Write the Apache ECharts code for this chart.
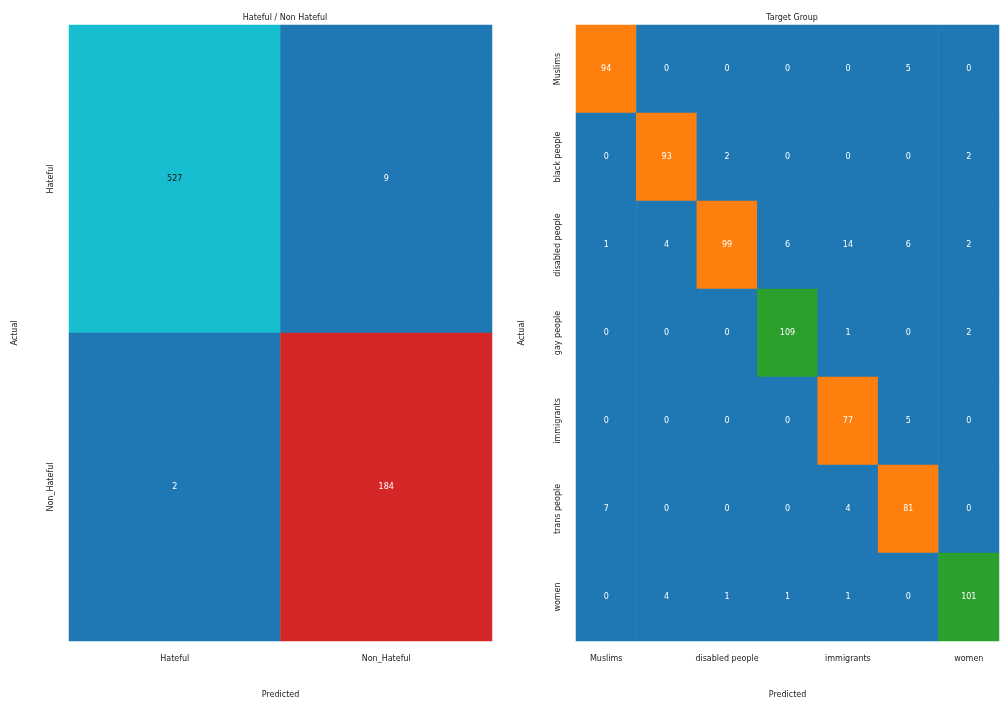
<!DOCTYPE html>
<html><head><meta charset="utf-8">
<script src="https://cdn.jsdelivr.net/npm/echarts@6/dist/echarts.min.js"></script>
<style>html,body{margin:0;background:#fff}#c{width:1008px;height:710px}</style>
</head><body><div id="c"></div>
<script>
const binCats = ['Hateful','Non_Hateful'];
const binValues = [[527,9],[2,184]];
const grpCats = ['Muslims','black people','disabled people','gay people','immigrants','trans people','women'];
const grpValues = [
 [94,0,0,0,0,5,0],
 [0,93,2,0,0,0,2],
 [1,4,99,6,14,6,2],
 [0,0,0,109,1,0,2],
 [0,0,0,0,77,5,0],
 [7,0,0,0,4,81,0],
 [0,4,1,1,1,0,101]
];
function toData(m){const d=[];m.forEach((r,i)=>r.forEach((v,j)=>d.push([j,i,v])));return d;}
const font='DejaVu Sans';
const lbl={fontSize:8,color:'#222',fontFamily:font};
function axes(cats,gi){
 return {
  x:{type:'category',data:cats,gridIndex:gi,position:'bottom',axisLine:{show:false},axisTick:{show:false},splitLine:{show:false},
     axisLabel:Object.assign({margin:14},lbl),name:'Predicted',nameLocation:'middle',nameGap:50,nameTextStyle:lbl},
  y:{type:'category',data:cats,gridIndex:gi,inverse:true,axisLine:{show:false},axisTick:{show:false},
     axisLabel:Object.assign({rotate:90,margin:14},lbl),name:'Actual',nameLocation:'middle',nameGap:50,nameTextStyle:lbl}
 };
}
const a0=axes(binCats,0),a1=axes(grpCats,1);
const chart=echarts.init(document.getElementById('c'));
const cellLabel={show:true,fontSize:8,fontFamily:font,color:'#fff'};
chart.setOption({
 animation:false,
 title:[{text:'Hateful / Non Hateful',left:280,top:9,textAlign:'center',textStyle:{fontSize:8,fontWeight:'normal',color:'#222',fontFamily:font}},
        {text:'Target Group',left:787,top:9,textAlign:'center',textStyle:{fontSize:8,fontWeight:'normal',color:'#222',fontFamily:font}}],
 grid:[{left:69,top:25,width:423,height:616},{left:576,top:25,width:423,height:616}],
 xAxis:[a0.x,a1.x],yAxis:[a0.y,a1.y],
 visualMap:[
  {show:false,type:'piecewise',seriesIndex:0,pieces:[{lt:100,color:'#1f77b4'},{gte:100,lt:400,color:'#d62728'},{gte:400,color:'#17becf'}]},
  {show:false,type:'piecewise',seriesIndex:1,pieces:[{lt:60,color:'#1f77b4'},{gte:60,lt:100,color:'#ff7f0e'},{gte:100,color:'#2ca02c'}]}
 ],
 series:[
  {type:'heatmap',xAxisIndex:0,yAxisIndex:0,data:toData(binValues),
   label:Object.assign({},cellLabel,{formatter:p=>p.value[2],color:undefined}),
   labelLayout:null,
   itemStyle:{borderWidth:0}},
  {type:'heatmap',xAxisIndex:1,yAxisIndex:1,data:toData(grpValues),label:Object.assign({},cellLabel,{formatter:p=>p.value[2]}),itemStyle:{borderWidth:0}}
 ]
});
// text color for binary: black on cyan
const d0=toData(binValues).map(v=>({value:v,label:{color:v[2]>=400?'#111':'#fff'}}));
chart.setOption({series:[{data:d0},{}]});
</script></body></html>
